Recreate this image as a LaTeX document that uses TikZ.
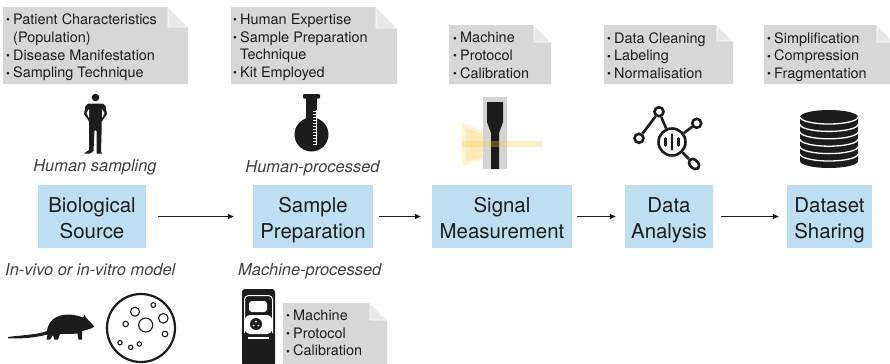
\documentclass[tikz,border=0pt]{standalone}
\usepackage{fontspec}
\setmainfont{TeX Gyre Heros}
\usetikzlibrary{arrows.meta,shapes.geometric}

\definecolor{boxblue}{HTML}{BEDFF1}
\definecolor{notegray}{HTML}{D7D7D7}
\definecolor{foldgray}{HTML}{E8E8E8}
\definecolor{ink}{HTML}{1C1C1C}
\definecolor{glow}{HTML}{FFC83D}

\newcommand\bul{\makebox[7bp][l]{\raisebox{0.6bp}{\fontsize{11}{11}\selectfont\textbullet}}}
% grey card with a folded top right corner: top left, bottom right, fold
\def\notecard(#1,#2)(#3,#4)(#5){%
  \fill[notegray] (#1,#2) -- ({#3-#5},#2) -- (#3,{#2+#5}) -- (#3,#4) -- (#1,#4) -- cycle;
  \fill[foldgray, draw=white, line width=0.8bp] ({#3-#5},#2) -- ({#3-#5},{#2+#5}) -- (#3,{#2+#5}) -- cycle;}

\begin{document}
\begin{tikzpicture}[x=1bp, y=-1bp,
    stage/.style={fill=boxblue, align=center, inner sep=0pt, minimum height=63bp,
      text height=43.6bp, text depth=0bp,
      font=\fontsize{20.5}{25.6}\selectfont, text=ink},
    bullets/.style={anchor=north west, inner sep=0pt, align=left,
      font=\fontsize{14.5}{17.8}\selectfont, text=ink},
    caption/.style={anchor=base, inner sep=0pt, font=\fontsize{16.5}{18}\selectfont\itshape, text=ink!85},
    flow/.style={-{Triangle[length=6bp,width=5bp]}, line width=1.3bp, draw=ink},
    icon/.style={draw=ink, line width=2.6bp},
  ]
  \useasboundingbox (0,0) rectangle (890,363);

  %%%%% pipeline %%%%%
  \node[stage, minimum width=108bp] (bio)  at (92,216.5)    {Biological\\Source};
  \node[stage, minimum width=120bp] (prep) at (313,216.5)   {Sample\\Preparation};
  \node[stage, minimum width=140bp] (meas) at (502,216.5)   {Signal\\Measurement};
  \node[stage, minimum width=88bp]  (ana)  at (669,216.5)   {Data\\Analysis};
  \node[stage, minimum width=85bp]  (share) at (829.5,216.5) {Dataset\\Sharing};

  \draw[flow, shorten <=12bp, shorten >=19bp] (bio) -- (prep);
  \draw[flow, shorten <=6bp, shorten >=11bp] (prep) -- (meas);
  \draw[flow, shorten <=5bp, shorten >=9bp] (meas) -- (ana);
  \draw[flow, shorten <=8bp, shorten >=8bp] (ana) -- (share);

  %%%%% notes %%%%%
  \notecard(3,7)(188,84)(20)
  \node[bullets] (n1) at (6,13.6) {\bul Patient Characteristics\\\hspace*{7bp}(Population)\\\bul Disease Manifestation\\\bul Sampling Technique};
  \notecard(231,7)(397,84)(21)
  \node[bullets] (n2) at (233,13.6) {\bul Human Expertise\\\bul Sample Preparation\\\hspace*{7bp}Technique\\\bul Kit Employed};
  \notecard(449,25)(551,84)(17)
  \node[bullets] (n3) at (453,32.1) {\bul Machine\\\bul Protocol\\\bul Calibration};
  \notecard(604,25)(733,84)(16)
  \node[bullets] (n4) at (607,32.1) {\bul Data Cleaning\\\bul Labeling\\\bul Normalisation};
  \notecard(764,25)(894,84)(17)
  \node[bullets] (n5) at (767,32.1) {\bul Simplification\\\bul Compression\\\bul Fragmentation};
  \notecard(283,303)(387,366)(17)
  \node[bullets] (n6) at (286,309.6) {\bul Machine\\\bul Protocol\\\bul Calibration};

  %%%%% captions %%%%%
  \node[caption] (hs) at (95,171.5) {Human sampling};
  \node[caption] (hp) at (312.5,172) {Human-processed};
  \node[caption, anchor=base west] (vivo) at (5,275) {In-vivo or in-vitro model};
  \node[caption, anchor=base west] (mp) at (238,275) {Machine-processed};

  %%%%% person %%%%%
  \fill[ink] (95.5,97.5) circle (3.8);
  \fill[ink] (88,103.5) -- (103,103.5) -- (105.5,106) -- (107,114) -- (102.5,120.5) -- (101.5,122)
    -- (101.5,135) -- (101,151) -- (102,153.5) -- (96.5,153.5) -- (96.5,131) -- (95,130) -- (94.5,131)
    -- (93.5,151) -- (90,153.5) -- (84,153.5) -- (89,150) -- (89,122) -- (88.5,120.5) -- (84,114)
    -- (85.5,106) -- cycle;
  \fill[white] (86.5,113) -- (89,118) -- (89,109) -- cycle;
  \fill[white] (104.5,113) -- (102,118) -- (102,109) -- cycle;

  %%%%% flask %%%%%
  \fill[ink, rounded corners=1bp] (303,94) rectangle (320,98.5);
  \fill[ink] (306,98) rectangle (317,122);
  \fill[ink] (311.5,134.5) circle (17);
  \draw[white, line width=0.8bp] (316,110) -- (316,145);
  \foreach \t in {0,...,11}
    \draw[white, line width=0.8bp] (316,{111+3*\t}) -- ++(-3,0);

  %%%%% measurement cell %%%%%
  \fill[black!17] (483,97) rectangle (507,169);
  \fill[ink] (487,102) -- (503,102) -- (503,122) -- (499,133) -- (499,169) -- (491,169) -- (491,133)
    -- (487,122) -- cycle;
  \fill[glow, opacity=0.2] (462,122) -- (483,131) -- (483,159) -- (462,167) -- cycle;
  \fill[glow, opacity=0.22] (466,128) -- (483,134) -- (483,156) -- (466,162) -- cycle;
  \fill[glow, opacity=0.3] (462,141) rectangle (542,147);

  %%%%% analysis %%%%%
  \node[circle, icon, minimum size=27bp, inner sep=0pt] (dc) at (672,142) {};
  \node[circle, icon, minimum size=9bp, inner sep=0pt] (dt) at (659,111.7) {};
  \node[circle, icon, minimum size=9bp, inner sep=0pt] (dl) at (639,138.3) {};
  \node[circle, icon, minimum size=9bp, inner sep=0pt] (dr) at (696.7,123.3) {};
  \node[ellipse, icon, minimum width=12bp, minimum height=8bp, inner sep=0pt, rotate=-45] (db) at (694,164) {};
  \draw[icon] (dl) -- (dt);
  \draw[icon] (dt) -- (dc);
  \draw[icon] (dr) -- (dc);
  \draw[icon] (dc) -- (db);
  \draw[icon, line cap=round] (665.5,138.5) -- (665.5,145.5) (672,134.5) -- (672,149.5)
    (678.5,138.5) -- (678.5,145.5);

  %%%%% dataset stack %%%%%
  \fill[ink] (800,117) -- (800,161) arc[start angle=180, end angle=0, x radius=29, y radius=7]
    -- (858,117) arc[start angle=0, end angle=-180, x radius=29, y radius=7] -- cycle;
  \foreach \k in {0,...,5}
    \draw[white, line width=1.3bp] (800,{117+7.4*\k}) arc[start angle=180, end angle=0, x radius=29, y radius=7];

  %%%%% mouse %%%%%
  \fill[ink] (8,337) .. controls (22,335) and (36,335) .. (47,331)
    .. controls (48,321) and (56,315) .. (67,314.5)
    .. controls (74,314.5) and (79,316) .. (83,317.5)
    -- (84.5,315) -- (86.5,318)
    .. controls (89,321) and (92,324) .. (94.5,326.5)
    -- (91,328.5) .. controls (88,329.5) and (85,330.5) .. (82,331)
    -- (82,339.5) -- (78.5,339.5) -- (77.5,333.5)
    .. controls (72,334) and (66,334) .. (60,334)
    -- (58,339.5) -- (54.5,339.5) -- (53,335) -- (50,339.5) -- (46.5,339.5) -- (47.5,334.5)
    .. controls (36,337.5) and (22,339) .. (8,338.3) -- cycle;

  %%%%% culture dish %%%%%
  \draw[ink, line width=2.2bp] (141,328) circle (34);
  \begin{scope}[ink, line width=1.1bp]
    \draw (145.7,325) circle (7);
    \draw (135,311.7) circle (4.5);
    \draw (153.3,305) circle (2.4);
    \draw (163.3,318.3) circle (4.8);
    \draw (125.7,324) circle (2.7);
    \draw (165,334) circle (2.8);
    \draw (120,342.7) circle (2.2);
    \draw (130.7,347.3) circle (2.2);
    \draw (139.3,344) circle (2.2);
  \end{scope}

  %%%%% machine %%%%%
  \fill[ink, rounded corners=3bp] (242,289) rectangle (275,366);
  \draw[white, line width=1bp, rounded corners=4bp] (244.5,333) -- (244.5,295.5) -- (272.5,295.5) -- (272.5,333);
  \fill[white, rounded corners=3bp] (249,301) rectangle (267,312);
  \fill[white, rounded corners=6bp] (244.5,315) rectangle (272.5,334);
  \fill[ink] (256,324) circle (6);
  \fill[white] (256,321.5) circle (1) (253.7,325.5) circle (1) (258.3,325.5) circle (1);
  \draw[white, line width=1.2bp] (248,338) -- (269,338);
\end{tikzpicture}
\end{document}
